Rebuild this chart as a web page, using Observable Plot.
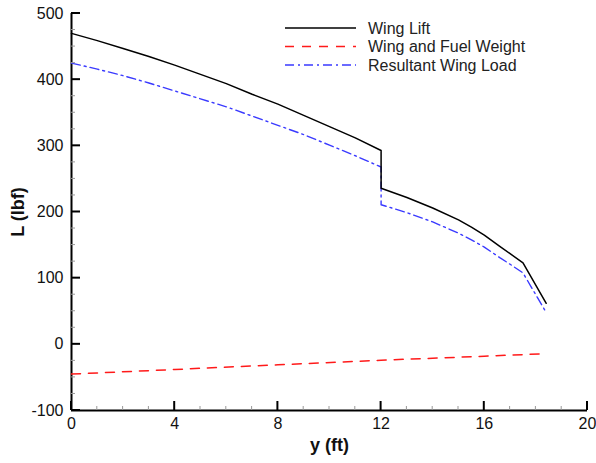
<!DOCTYPE html>
<html><head><meta charset="utf-8">
<script src="https://cdn.jsdelivr.net/npm/d3@7"></script>
<script src="https://cdn.jsdelivr.net/npm/@observablehq/plot@0.6"></script>
<style>
body{margin:0;background:#fff;}
#wrap{position:relative;width:596px;height:463px;}
#overlay{position:absolute;left:0;top:0;pointer-events:none;}
</style>
</head><body><div id="wrap"></div>
<script>
// Data
const stations = [0,1,2,3,4,5,6,7,8,9,10,11,12,12,13,14,15,15.5,16,16.6,17,17.5,18.4];
const wingLift = [470,459,447,435,422,408,394,378,363,346,329,312,293,236,222,206,188,177,165,148,137,123,62];
const resultantLoad = [425,416,406,395,383,371,359,345,331,317,301,285,268,211,199,185,168,158,147,131,121,108,48];
const weightStations = [0,4,8,12,16,18.4];
const wingFuelWeight = [-45,-38,-31,-24,-18,-14];
const seriesNames = ["Wing Lift","Wing and Fuel Weight","Resultant Wing Load"];
const xMajor = [0,4,8,12,16,20];
const xMinor = [1,2,3,5,6,7,9,10,11,13,14,15,17,18,19];
const yMajor = [-100,0,100,200,300,400,500];
const yMinor = [-75,-50,-25,25,50,75,125,150,175,225,250,275,325,350,375,425,450,475];

const W=596, H=463, mL=71, mR=9, mT=13, mB=53;

const lift = stations.map((s,i)=>({y:s, L:wingLift[i]}));
const res = stations.map((s,i)=>({y:s, L:resultantLoad[i]}));
const wt = weightStations.map((s,i)=>({y:s, L:wingFuelWeight[i]}));

const styles = [
  {stroke:"#000", strokeWidth:1.5, dash:null},
  {stroke:"#ff1a1a", strokeWidth:1.5, dash:"9,8"},
  {stroke:"#3a3aff", strokeWidth:1.4, dash:"9,4,2,4"}
];
const fmt = d => String(d);

const chart = Plot.plot({
  width:W, height:H, marginLeft:mL, marginRight:mR, marginTop:mT, marginBottom:mB,
  style:{fontFamily:"'Liberation Sans', Arial, sans-serif", fontSize:"16px", color:"#111", background:"#fff"},
  x:{domain:[0,20]},
  y:{domain:[-100,500]},
  marks:[
    Plot.axisX({ticks:xMajor, tickSize:0, tickPadding:7, tickFormat:fmt, fontSize:16, label:null}),
    Plot.axisY({ticks:yMajor, tickSize:0, tickPadding:8, tickFormat:fmt, fontSize:16, label:null}),
    Plot.ruleY([-100], {stroke:"#000", strokeWidth:2}),
    Plot.ruleX([0], {stroke:"#000", strokeWidth:2}),
    Plot.line(wt, {x:"y", y:"L", stroke:styles[1].stroke, strokeWidth:styles[1].strokeWidth, strokeDasharray:styles[1].dash}),
    Plot.line(res, {x:"y", y:"L", stroke:styles[2].stroke, strokeWidth:styles[2].strokeWidth, strokeDasharray:styles[2].dash}),
    Plot.line(lift, {x:"y", y:"L", stroke:styles[0].stroke, strokeWidth:styles[0].strokeWidth}),
    Plot.text(["y (ft)"], {frameAnchor:"bottom", lineAnchor:"middle", textAnchor:"middle", dy:35, fontWeight:"bold", fontSize:18, fill:"#111"}),
    Plot.text(["L (lbf)"], {frameAnchor:"left", lineAnchor:"middle", textAnchor:"middle", dx:-53, rotate:-90, fontWeight:"bold", fontSize:18, fill:"#111"})
  ]
});
const wrap = document.getElementById("wrap");
wrap.appendChild(chart);

// Overlay: inward axis ticks (positioned with Plot's own scales) and legend
const sx = chart.scale("x"), sy = chart.scale("y");
const x0 = sx.apply(0), yb = sy.apply(-100);
const svg = d3.select(wrap).append("svg").attr("id","overlay").attr("width",W).attr("height",H);
const g = svg.append("g");
xMinor.forEach(v => g.append("line").attr("x1",sx.apply(v)).attr("x2",sx.apply(v)).attr("y1",yb).attr("y2",yb-4).attr("stroke","#999").attr("stroke-width",1));
yMinor.forEach(v => g.append("line").attr("x1",x0).attr("x2",x0+4).attr("y1",sy.apply(v)).attr("y2",sy.apply(v)).attr("stroke","#999").attr("stroke-width",1));
xMajor.forEach(v => g.append("line").attr("x1",sx.apply(v)).attr("x2",sx.apply(v)).attr("y1",yb).attr("y2",yb-9).attr("stroke","#000").attr("stroke-width",2));
yMajor.forEach(v => g.append("line").attr("x1",x0).attr("x2",x0+9).attr("y1",sy.apply(v)).attr("y2",sy.apply(v)).attr("stroke","#000").attr("stroke-width",2));

seriesNames.forEach((name,i)=>{
  const yy = 28 + i*18.5;
  const s = styles[i];
  const ln = svg.append("line").attr("x1",285).attr("x2",356).attr("y1",yy).attr("y2",yy)
    .attr("stroke",s.stroke).attr("stroke-width",s.strokeWidth);
  if (s.dash) ln.attr("stroke-dasharray", s.dash);
  svg.append("text").attr("x",368).attr("y",yy).attr("dy","0.35em")
    .attr("font-family","'Liberation Sans', Arial, sans-serif").attr("font-size",16)
    .attr("fill","#222").text(name);
});
</script>
</body></html>
